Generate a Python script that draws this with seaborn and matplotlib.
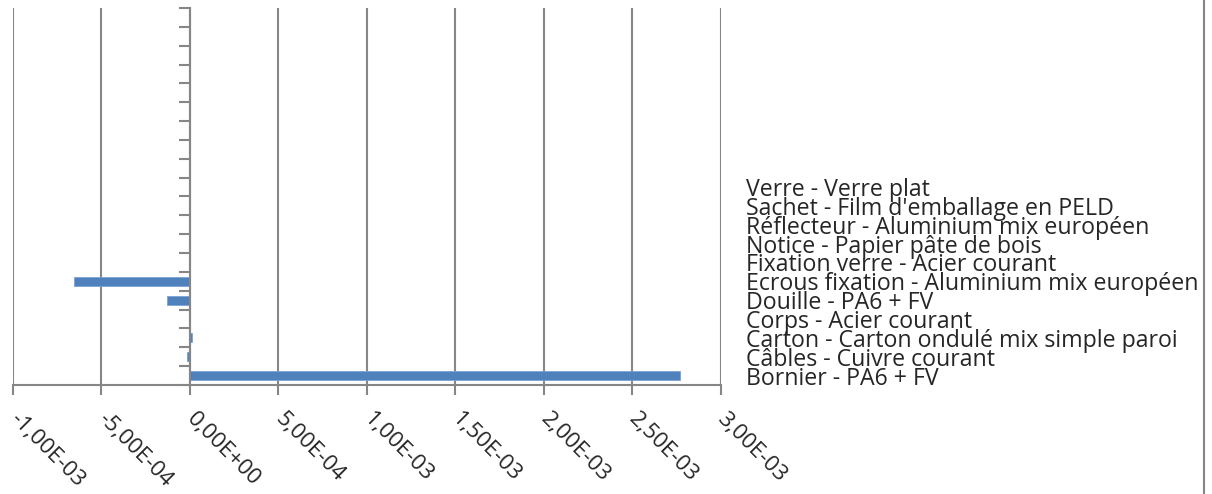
"""
Bar chart of the impact per component (horizontal bars, Excel-like look).
"""

import numpy as np
import pandas as pd
import matplotlib
matplotlib.use("Agg")
import matplotlib.pyplot as plt
from matplotlib.lines import Line2D
from matplotlib.ticker import FixedLocator
import seaborn as sns

# Data (bottom to top, as on the chart)
composants = [
    "Bornier - PA6 + FV",
    "Câbles - Cuivre courant",
    "Carton - Carton ondulé mix simple paroi",
    "Corps - Acier courant",
    "Douille - PA6 + FV",
    "Ecrous fixation - Aluminium mix européen",
    "Fixation verre - Acier courant",
    "Notice - Papier pâte de bois",
    "Réflecteur - Aluminium mix européen",
    "Sachet - Film d'emballage en PELD",
    "Verre - Verre plat",
]
valeurs = [2.77e-3, -1.8e-5, 1.3e-5, 0.0, -1.3e-4, -6.56e-4, 0.0, 0.0, 0.0, 0.0, 0.0]

# empty categories above the named ones
n_vides = 9
vides = [f"_vide{i}" for i in range(n_vides)]

x_ticks = [-1e-3, -5e-4, 0.0, 5e-4, 1e-3, 1.5e-3, 2e-3, 2.5e-3, 3e-3]

BLEU = "#4F81BD"
GRIS = "#868686"

# order top -> bottom for seaborn
ordre = vides[::-1] + composants[::-1]
df = pd.DataFrame({"composant": composants, "valeur": valeurs})

sns.set_style("white")
plt.rcParams["font.family"] = ["Open Sans", "DejaVu Sans"]

W, H = 1212, 494
fig = plt.figure(figsize=(W / 100, H / 100), dpi=100)
ax = fig.add_axes([13 / W, 1 - 385 / H, (720.5 - 13) / W, (385 - 8) / H])

sns.barplot(data=df, x="valeur", y="composant", order=ordre, orient="h",
            color=BLEU, saturation=1, width=0.48, ax=ax,
            edgecolor="#7BA3D6", linewidth=0.6)

ax.set_xlim(x_ticks[0], x_ticks[-1])
ax.set_ylim(len(ordre) - 0.5, -0.5)
ax.set_xlabel("")
ax.set_ylabel("")

# x axis
ax.set_xticks(x_ticks)
ax.set_xticklabels([f"{v:.2E}".replace(".", ",") for v in x_ticks],
                   rotation=-45, ha="left", va="center", rotation_mode="anchor")
ax.tick_params(axis="x", which="major", bottom=True, length=7, width=1.5,
               color=GRIS, direction="out", pad=15, labelsize=16)
ax.xaxis.grid(True, color=GRIS, linewidth=1.5)
ax.set_axisbelow(True)

# y axis: labels on the right, tick marks between categories on the spine at 0
ax.set_yticks(range(len(ordre)))
ax.set_yticklabels(["" if c.startswith("_vide") else c for c in ordre])
ax.tick_params(axis="y", which="major", left=False, right=False,
               labelleft=False, labelright=True, pad=15, labelsize=16.7)
ax.yaxis.set_minor_locator(FixedLocator(np.arange(-0.5, len(ordre), 1.0)))
ax.tick_params(axis="y", which="minor", left=True, length=8, width=1.5,
               color=GRIS, direction="out")

ax.spines["left"].set_position(("data", 0))
ax.spines["left"].set_color(GRIS)
ax.spines["left"].set_linewidth(1.5)
ax.spines["bottom"].set_color(GRIS)
ax.spines["bottom"].set_linewidth(1.5)
ax.spines["top"].set_visible(False)
ax.spines["right"].set_visible(False)

# chart border on the right
fig.add_artist(Line2D([1203.5 / W, 1203.5 / W], [0, 1], transform=fig.transFigure,
                      color=GRIS, linewidth=1.5))

fig.savefig("out.png", dpi=100)
